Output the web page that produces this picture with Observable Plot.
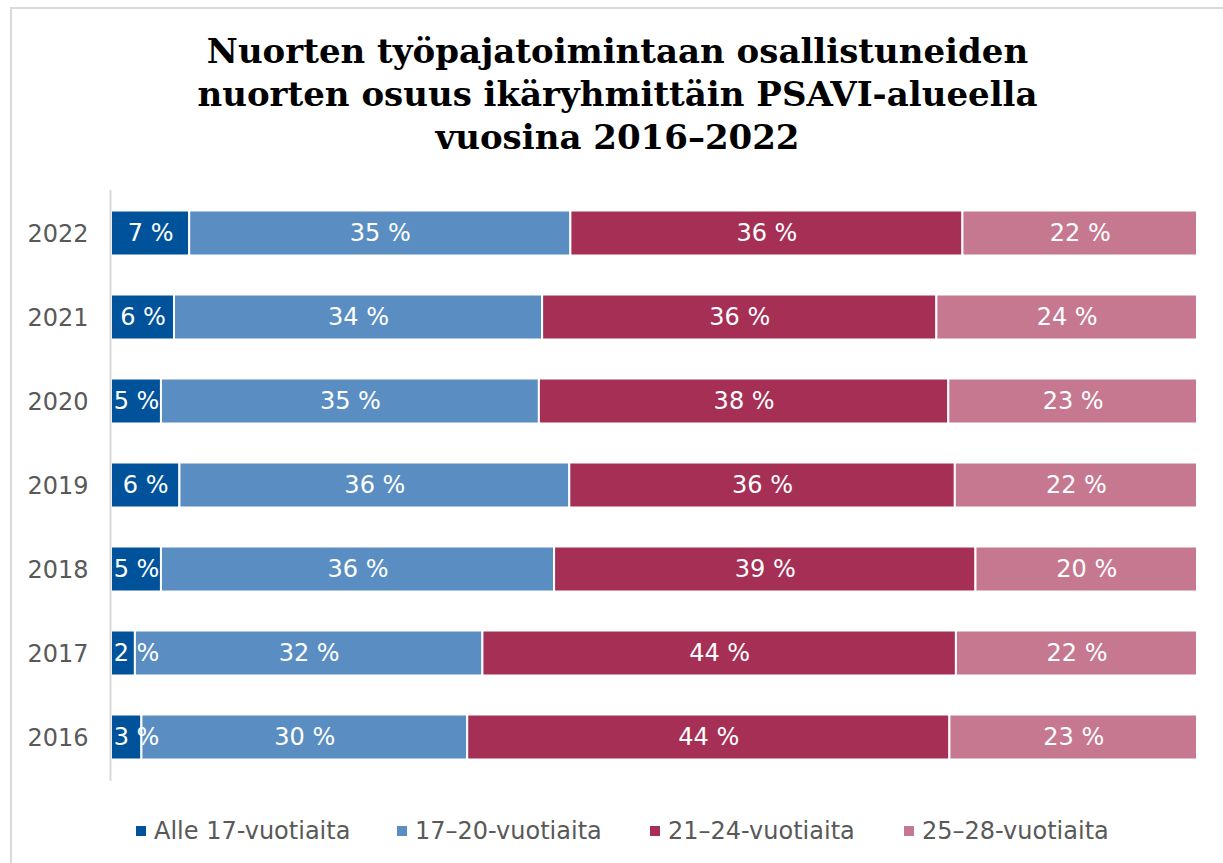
<!DOCTYPE html>
<html>
<head>
<meta charset="utf-8">
<script src="https://cdn.jsdelivr.net/npm/d3@7"></script>
<script src="https://cdn.jsdelivr.net/npm/@observablehq/plot@0.6"></script>
<style>
  html, body { margin: 0; padding: 0; background: #fff; }
  #wrap { position: relative; width: 1223px; height: 863px; overflow: hidden; }
  #frame { position: absolute; left: 10px; top: 7px; width: 1300px; height: 900px; border: 2px solid #d9d9d9; box-sizing: border-box; }
  #title { position: absolute; top: 30px; left: 12px; width: 1211px; text-align: center;
    font-family: "DejaVu Serif", serif; font-weight: bold; font-size: 34px; line-height: 43px; color: #000; }
  #chart { position: absolute; left: 0; top: 170px; }
  #legend { position: absolute; top: 817px; left: 0; width: 1223px; height: 30px;
    font-family: "DejaVu Sans", sans-serif; font-size: 24px; color: #595959; }
  .item { position: absolute; top: 0; display: flex; align-items: center; gap: 8px; white-space: nowrap; }
  .sw { width: 10px; height: 10px; display: inline-block; }
</style>
</head>
<body>
<div id="wrap">
  <div id="frame"></div>
  <div id="title">Nuorten työpajatoimintaan osallistuneiden<br>nuorten osuus ikäryhmittäin PSAVI-alueella<br>vuosina 2016–2022</div>
  <div id="chart"></div>
  <div id="legend"></div>
</div>
<script>
const years = ["2022", "2021", "2020", "2019", "2018", "2017", "2016"];
const groups = ["Alle 17-vuotiaita", "17–20-vuotiaita", "21–24-vuotiaita", "25–28-vuotiaita"];
const alle17 = [7.2, 5.8, 4.6, 6.3, 4.6, 2.2, 2.8];
const v17_20 = [35.1, 33.9, 34.8, 35.9, 36.2, 32.0, 30.0];
const v21_24 = [36.1, 36.3, 37.7, 35.5, 38.8, 43.6, 44.4];
const v25_28 = [21.6, 24.0, 22.9, 22.3, 20.4, 22.2, 22.8];
const colors = ["#00539B", "#5A8EC3", "#A62F55", "#C67890"];

const series = [alle17, v17_20, v21_24, v25_28];
const table = [];
years.forEach((yr, i) => {
  const total = d3.sum(series, s => s[i]);
  let acc = 0;
  series.forEach((s, g) => {
    const x1 = acc / total * 100;
    acc += s[i];
    const x2 = acc / total * 100;
    table.push({year: yr, group: groups[g], value: s[i], x1, x2, mid: Math.max((x1 + x2) / 2, 2.3)});
  });
});

const chart = Plot.plot({
  width: 1223,
  height: 630,
  marginLeft: 111,
  marginRight: 26,
  marginTop: 20,
  marginBottom: 19,
  style: {fontFamily: "DejaVu Sans, sans-serif", background: "transparent"},
  x: {domain: [0, 100], axis: null},
  y: {domain: years, padding: 0, axis: null},
  color: {domain: groups, range: colors},
  marks: [
    Plot.barX(table, {x1: "x1", x2: "x2", y: "year", fill: "group", stroke: "#fff", strokeWidth: 2, insetTop: 18.5, insetBottom: 20.5}),
    Plot.ruleX([0], {stroke: "#d9d9d9", strokeWidth: 2, dx: -1}),
    Plot.axisY({tickSize: 0, tickPadding: 23, fontSize: 24, fill: "#595959", label: null}),
    Plot.text(table, {x: "mid", y: "year", dy: -1, text: d => Math.round(d.value) + " %", fill: "#fff", fontSize: 24})
  ]
});
document.getElementById("chart").appendChild(chart);

const legend = document.getElementById("legend");
const legendLeft = [136, 397, 650, 904];
groups.forEach((g, i) => {
  const it = document.createElement("div");
  it.className = "item";
  it.style.left = legendLeft[i] + "px";
  const sw = document.createElement("span");
  sw.className = "sw";
  sw.style.background = colors[i];
  const tx = document.createElement("span");
  tx.textContent = g;
  it.appendChild(sw);
  it.appendChild(tx);
  legend.appendChild(it);
});
</script>
</body>
</html>
